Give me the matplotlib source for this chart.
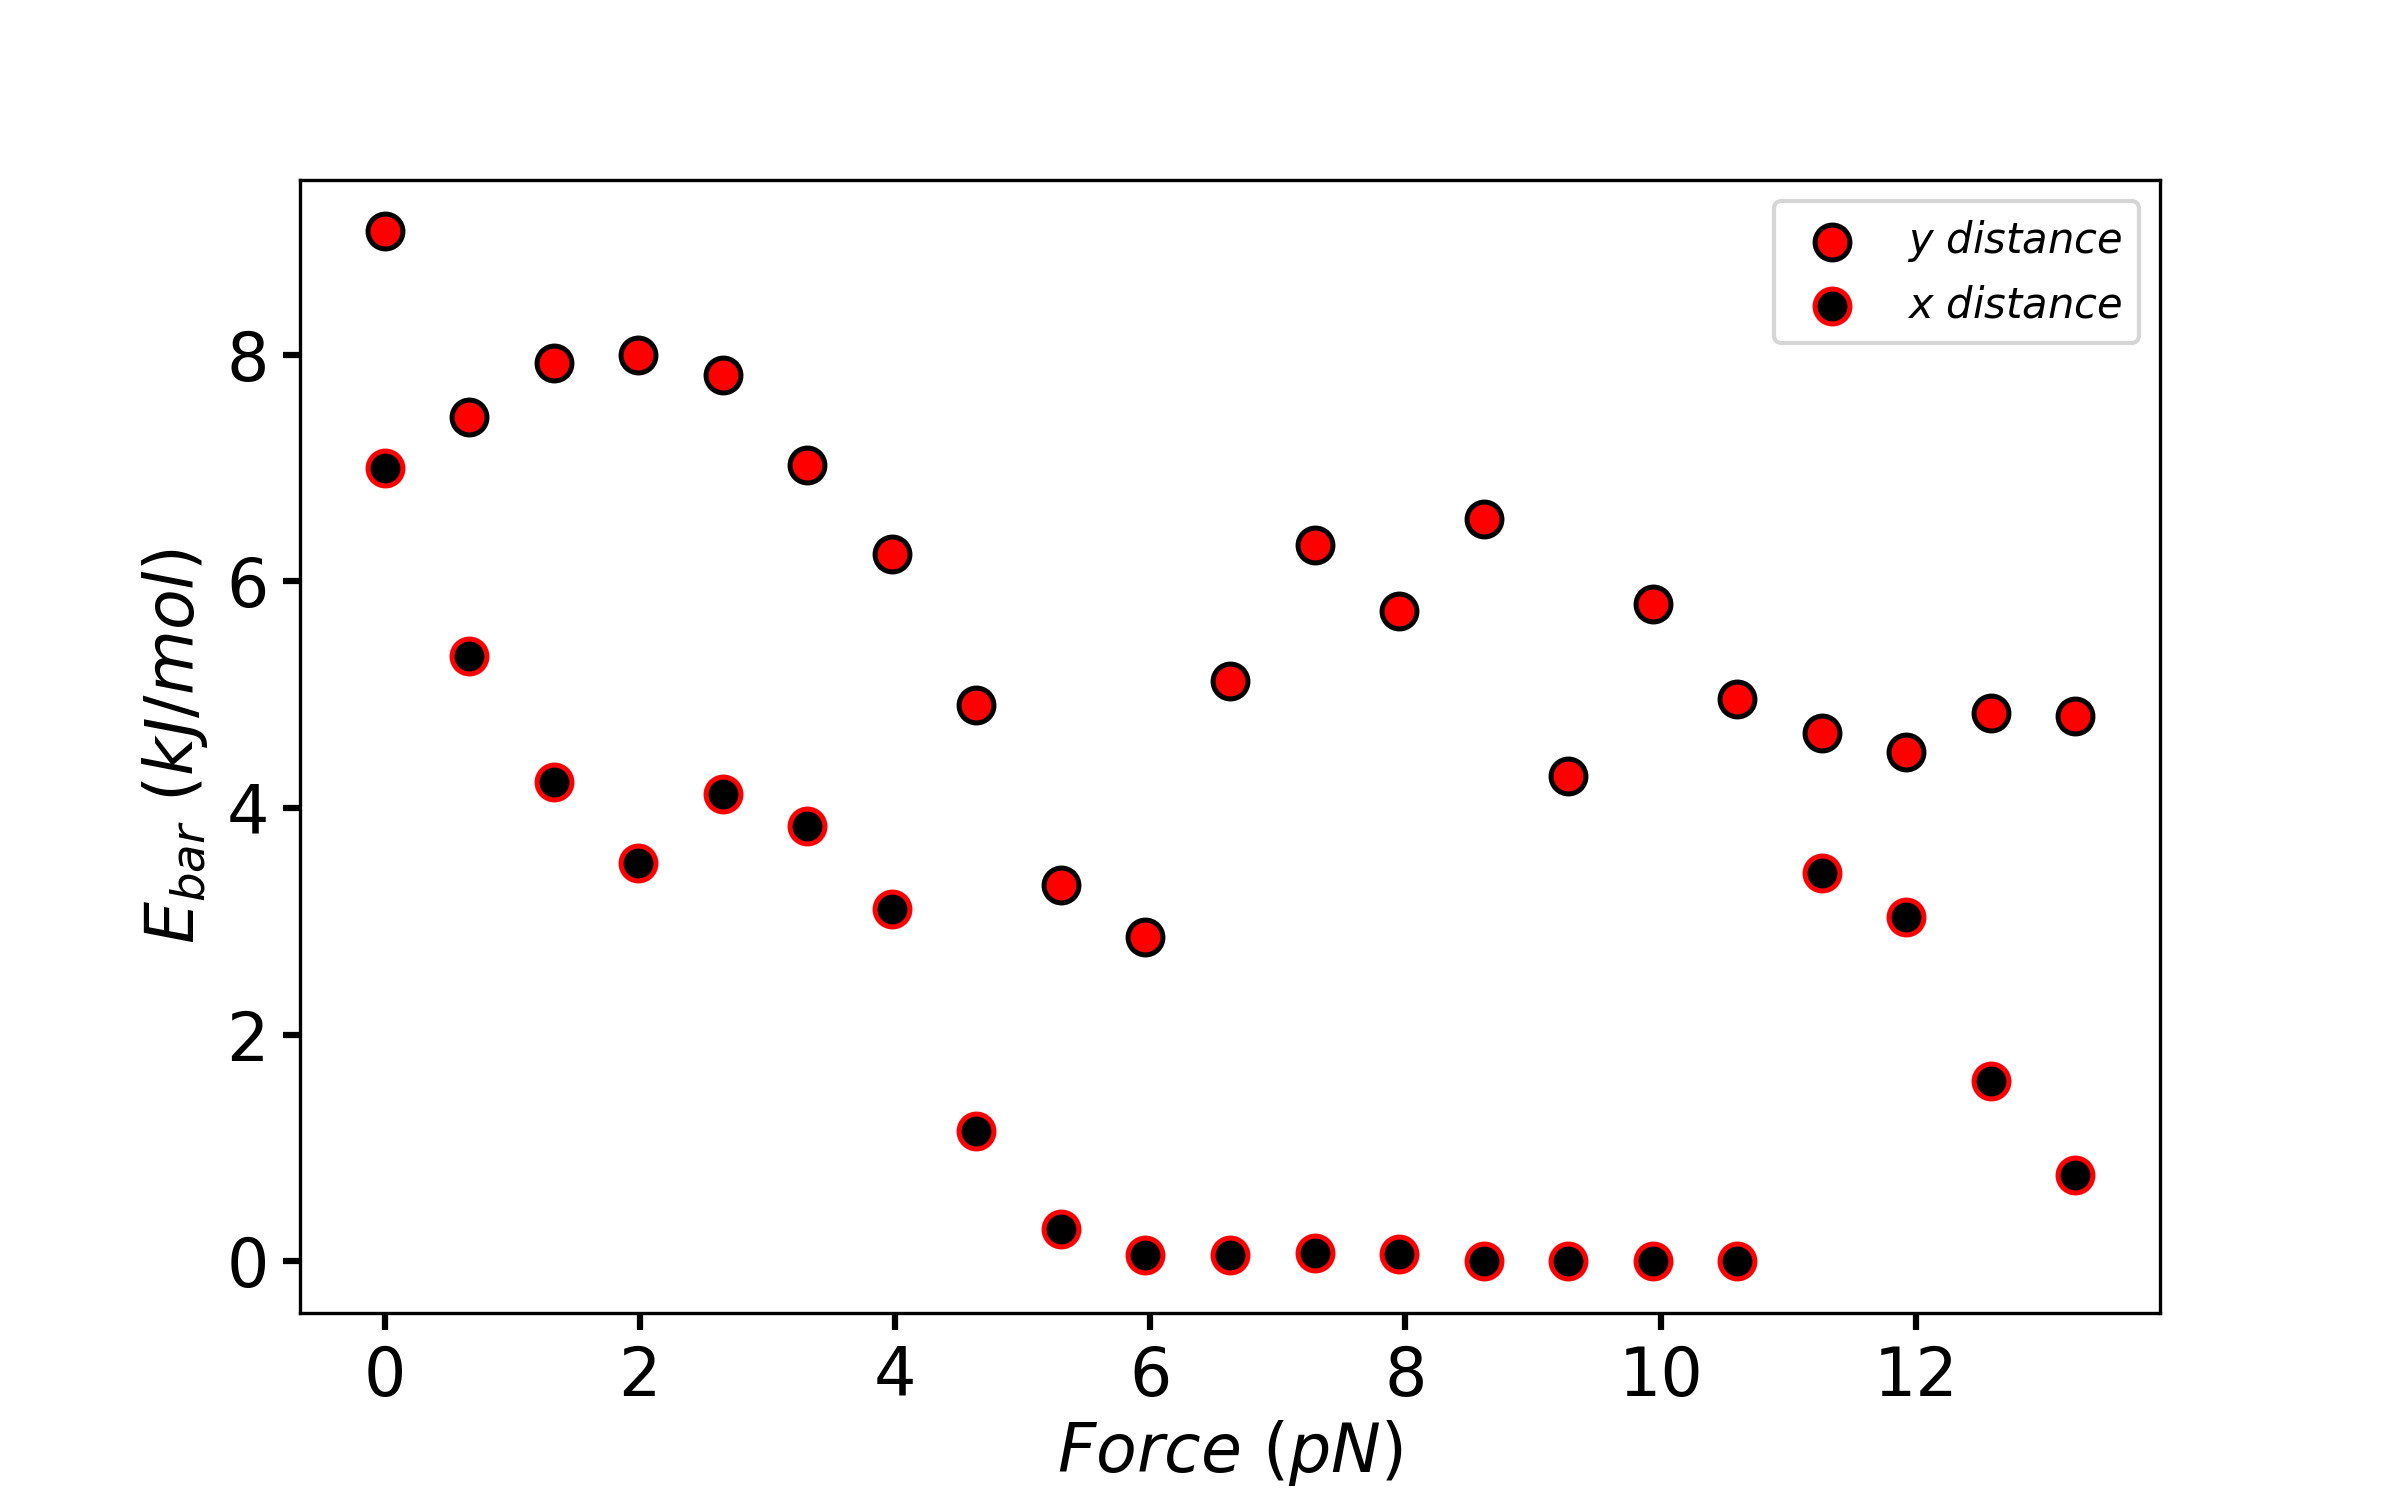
import matplotlib

matplotlib.use("Agg")
import matplotlib.pyplot as plt
import numpy as np

force = np.arange(21) * 0.6625

y_distance = [9.09, 7.45, 7.93, 8.00, 7.82, 7.03, 6.24, 4.91, 3.32, 2.86, 5.12,
              6.32, 5.74, 6.55, 4.28, 5.80, 4.96, 4.66, 4.49, 4.84, 4.81]
x_distance = [7.00, 5.34, 4.23, 3.51, 4.12, 3.84, 3.11, 1.15, 0.28, 0.05, 0.05,
              0.07, 0.06, 0.00, 0.00, 0.00, 0.00, 3.43, 3.04, 1.59, 0.76]

fig, ax = plt.subplots(figsize=(8, 5))
fig.subplots_adjust(left=0.125, right=0.9, bottom=0.125, top=0.88)
ax.scatter(force, y_distance, s=70, c="red", edgecolors="black", linewidths=1.2,
           label="$y$ $distance$", zorder=3)
ax.scatter(force, x_distance, s=70, c="black", edgecolors="red", linewidths=1.2,
           label="$x$ $distance$", zorder=3)

ax.set_xlabel("$Force$ $(pN)$", fontsize=16, labelpad=2)
ax.set_ylabel("$E_{bar}$ $(kJ/mol)$", fontsize=16)
ax.tick_params(labelsize=16, width=1.5, length=4)
ax.legend(fontsize=10, loc="upper right")

fig.savefig("out.png", dpi=300)
plt.close(fig)
